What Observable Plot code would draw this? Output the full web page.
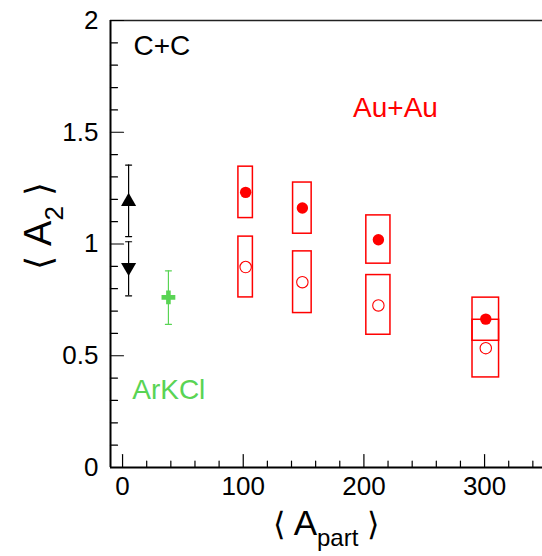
<!DOCTYPE html>
<html><head><meta charset="utf-8">
<script src="https://cdn.jsdelivr.net/npm/d3@7"></script>
<script src="https://cdn.jsdelivr.net/npm/@observablehq/plot@0.6"></script>
<style>body{margin:0;background:#fff} svg{display:block}</style>
</head><body><div id="chart"></div>
<script>
// ---- data ----
// C+C (black triangles, up / down)
const ccX = [5, 5];
const ccY = [1.19, 0.896];
const ccLo = [1.033, 0.768];
const ccHi = [1.353, 1.01];
// ArKCl (green cross)
const arX = [38];
const arY = [0.761];
const arLo = [0.64];
const arHi = [0.88];
// Au+Au (red) : centres, x half-widths of the systematic boxes
const auX = [102, 149, 212, 301];
const auXErr = [6, 7.7, 10, 11];
const auFilledY = [1.231, 1.161, 1.019, 0.664];
const auFilledLo = [1.116, 1.046, 0.912, 0.567];
const auFilledHi = [1.346, 1.275, 1.128, 0.760];
const auOpenY = [0.897, 0.829, 0.725, 0.534];
const auOpenLo = [0.761, 0.691, 0.594, 0.403];
const auOpenHi = [1.033, 0.967, 0.861, 0.661];
// ticks
const xMajor = [0, 100, 200, 300];
const xMinor = [20, 40, 60, 80, 120, 140, 160, 180, 220, 240, 260, 280, 320, 340];
const yMajor = [0, 0.5, 1, 1.5, 2];
const yMinor = [0.1, 0.2, 0.3, 0.4, 0.6, 0.7, 0.8, 0.9, 1.1, 1.2, 1.3, 1.4, 1.6, 1.7, 1.8, 1.9];
// annotations
const labelText = ["C+C", "Au+Au", "ArKCl"];
const labelX = [9, 191, 8];
const labelY = [1.884, 1.61, 0.345];
const labelColor = ["#000000", "#ff0000", "#59d454"];

// ---- build ----
const FONT = "'Liberation Sans', Arial, Helvetica, sans-serif";
const RED = "#ff0000";
const GREEN = "#59d454";
const cc = ccX.map((x, i) => ({x, y: ccY[i], lo: ccLo[i], hi: ccHi[i], dir: i === 0 ? "up" : "down"}));
const ar = arX.map((x, i) => ({x, y: arY[i], lo: arLo[i], hi: arHi[i]}));
const auF = auX.map((x, i) => ({x, x1: x - auXErr[i], x2: x + auXErr[i], y: auFilledY[i], lo: auFilledLo[i], hi: auFilledHi[i]}));
const auO = auX.map((x, i) => ({x, x1: x - auXErr[i], x2: x + auXErr[i], y: auOpenY[i], lo: auOpenLo[i], hi: auOpenHi[i]}));
const labels = labelText.map((t, i) => ({t, x: labelX[i], y: labelY[i], c: labelColor[i]}));

const tickUp = {draw(ctx, l) { ctx.moveTo(0, 0); ctx.lineTo(0, -l); }};
const tickRight = {draw(ctx, l) { ctx.moveTo(0, 0); ctx.lineTo(l, 0); }};
const cap = {draw(ctx, l) { ctx.moveTo(-l / 2, 0); ctx.lineTo(l / 2, 0); }};

const svg = Plot.plot({
  width: 542,
  height: 556,
  marginLeft: 110,
  marginRight: 0,
  marginTop: 20,
  marginBottom: 89,
  style: {fontFamily: FONT, background: "#fff"},
  x: {domain: [-10, 348], axis: null},
  y: {domain: [0, 2], axis: null},
  marks: [
    // frame lines
    Plot.ruleY([2], {stroke: "#222", strokeWidth: 1.3}),
    Plot.ruleY([0], {stroke: "#000", strokeWidth: 2}),
    Plot.ruleX([-10], {stroke: "#000", strokeWidth: 2}),
    // ticks
    Plot.vector(xMajor, {x: d => d, frameAnchor: "bottom", length: 13, shape: tickUp, anchor: "start", stroke: "#000", strokeWidth: 1.2}),
    Plot.vector(xMinor, {x: d => d, frameAnchor: "bottom", length: 6.5, shape: tickUp, anchor: "start", stroke: "#000", strokeWidth: 1.2}),
    Plot.vector(yMajor, {y: d => d, frameAnchor: "left", length: 13, shape: tickRight, anchor: "start", stroke: "#000", strokeWidth: 1.2}),
    Plot.vector(yMinor, {y: d => d, frameAnchor: "left", length: 7, shape: tickRight, anchor: "start", stroke: "#000", strokeWidth: 1.2}),
    // tick labels
    Plot.axisX(xMajor, {anchor: "bottom", tickSize: 0, tickPadding: 9, fontSize: 26, fill: "#000", tickFormat: d => String(d)}),
    Plot.axisY(yMajor, {anchor: "left", tickSize: 0, tickPadding: 12, fontSize: 26, fill: "#000", tickFormat: d => String(d)}),
    // Au+Au systematic boxes
    Plot.rect(auF, {x1: "x1", x2: "x2", y1: "lo", y2: "hi", fill: "none", stroke: RED, strokeWidth: 1.5}),
    Plot.rect(auO, {x1: "x1", x2: "x2", y1: "lo", y2: "hi", fill: "none", stroke: RED, strokeWidth: 1.5}),
    Plot.dot(auF, {x: "x", y: "y", r: 5.7, fill: RED, stroke: "none"}),
    Plot.dot(auO, {x: "x", y: "y", r: 5.7, fill: "none", stroke: RED, strokeWidth: 1.1}),
    // C+C error bars
    Plot.ruleX(cc, {x: "x", y1: "lo", y2: "hi", stroke: "#000", strokeWidth: 1.2}),
    Plot.vector(cc, {x: "x", y: "lo", length: 6, shape: cap, anchor: "start", stroke: "#000", strokeWidth: 1.2}),
    Plot.vector(cc, {x: "x", y: "hi", length: 6, shape: cap, anchor: "start", stroke: "#000", strokeWidth: 1.2}),
    Plot.dot(cc.filter(d => d.dir === "up"), {x: "x", y: "y", symbol: "triangle", r: 5.6, fill: "#000", stroke: "none"}),
    Plot.dot(cc.filter(d => d.dir === "down"), {x: "x", y: "y", symbol: "triangle", rotate: 180, r: 5.6, fill: "#000", stroke: "none"}),
    // ArKCl
    Plot.ruleX(ar, {x: "x", y1: "lo", y2: "hi", stroke: GREEN, strokeWidth: 1.2}),
    Plot.vector(ar, {x: "x", y: "lo", length: 6, shape: cap, anchor: "start", stroke: GREEN, strokeWidth: 1.2}),
    Plot.vector(ar, {x: "x", y: "hi", length: 6, shape: cap, anchor: "start", stroke: GREEN, strokeWidth: 1.2}),
    Plot.dot(ar, {x: "x", y: "y", symbol: "cross", r: 5.8, fill: GREEN, stroke: "none"}),
    // annotations
    Plot.text(labels, {x: "x", y: "y", text: "t", fill: "c", textAnchor: "start", lineAnchor: "middle", fontSize: 28})
  ]
});

// axis titles with sub-scripts
const s = d3.select(svg);
const xt = s.append("text")
  .attr("x", 326).attr("y", 535)
  .attr("text-anchor", "middle")
  .attr("font-family", FONT).attr("font-size", 35).attr("fill", "#000");
xt.append("tspan").attr("font-size", 32).text("\u27E8 ");
xt.append("tspan").text("A");
xt.append("tspan").attr("font-size", 24).attr("dy", 11).text("part");
xt.append("tspan").attr("font-size", 32).attr("dy", -11).text(" \u27E9");

const yt = s.append("text")
  .attr("transform", "translate(51,226) rotate(-90)")
  .attr("text-anchor", "middle")
  .attr("font-family", FONT).attr("font-size", 38).attr("fill", "#000");
yt.append("tspan").attr("font-size", 36).text("\u27E8 ");
yt.append("tspan").text("A");
yt.append("tspan").attr("font-size", 26).attr("dy", 12).text("2");
yt.append("tspan").attr("font-size", 36).attr("dy", -12).text(" \u27E9");

document.getElementById("chart").appendChild(svg);
</script>
</body></html>
